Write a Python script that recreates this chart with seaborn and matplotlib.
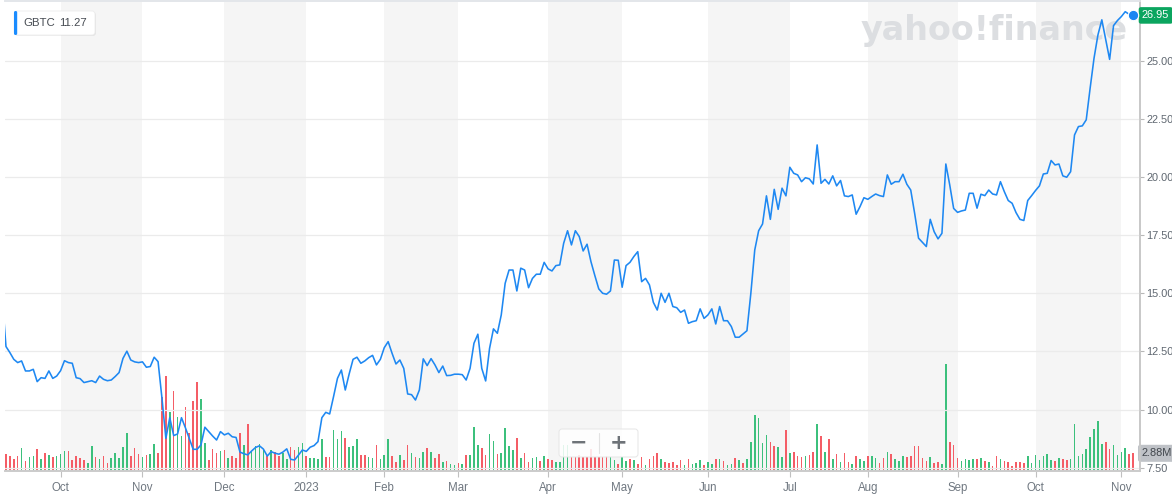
import numpy as np
import pandas as pd
import matplotlib
matplotlib.use("Agg")
import matplotlib.pyplot as plt
import matplotlib.transforms as mtransforms
from matplotlib.patches import FancyBboxPatch
import seaborn as sns

# ---------------- data ----------------
start_date = "2022-09-12"
end_date = "2023-11-06"
market_holidays = ["2022-11-24", "2022-12-26", "2023-01-02", "2023-01-16", "2023-02-20",
                   "2023-04-07", "2023-05-29", "2023-06-19", "2023-07-04", "2023-09-04"]

close_price = [
    14.9,
    12.71, 12.45, 12.16, 12.02, 12.09, 11.66, 11.66, 11.73, 11.20, 11.37,
    11.34, 11.66, 11.34, 11.44, 11.67, 12.10, 12.02, 11.99, 11.37, 11.33,
    11.16, 11.20, 11.24, 11.16, 11.44, 11.30, 11.24, 11.27, 11.42, 11.59,
    12.20, 12.51, 12.13, 12.05, 12.02, 12.05, 11.82, 11.85, 12.25, 12.06,
    10.48, 8.76, 9.65, 8.88, 8.95, 9.65, 9.22, 8.76, 8.29, 8.29,
    8.48, 9.24, 9.05, 8.86, 8.69, 9.05, 8.91, 8.98, 8.83, 8.80,
    8.17, 8.10, 8.05, 8.22, 8.37, 8.44, 8.30, 8.00, 8.19, 8.12,
    8.08, 8.17, 8.31, 7.86, 7.83, 8.04, 8.26, 8.20, 8.38, 8.45,
    8.62, 9.65, 9.88, 9.81, 10.56, 11.34, 11.70, 10.84, 11.53, 12.16,
    12.25, 11.99, 12.09, 12.23, 12.33, 11.92, 12.16, 12.66, 12.92, 12.42,
    11.96, 12.13, 11.77, 10.67, 10.64, 10.41, 10.84, 12.18, 11.89, 12.19,
    11.92, 11.59, 11.87, 11.46, 11.47, 11.52, 11.52, 11.50, 11.27, 11.77,
    12.85, 13.24, 11.77, 11.23, 12.63, 13.47, 13.28, 14.07, 15.43, 16.00,
    16.00, 15.10, 16.08, 16.00, 15.24, 15.64, 15.82, 15.82, 16.33, 16.05,
    15.96, 16.19, 16.22, 17.15, 17.69, 17.08, 17.69, 17.44, 16.82, 17.11,
    16.36, 15.76, 15.19, 15.00, 14.96, 15.10, 16.43, 16.42, 15.26, 16.19,
    16.33, 16.58, 16.79, 15.50, 15.64, 15.36, 14.61, 14.28, 15.00, 14.61,
    15.00, 14.43, 14.38, 14.18, 14.28, 13.71, 13.78, 13.82, 14.33, 13.92,
    14.07, 14.33, 13.68, 14.43, 13.82, 13.82, 13.57, 13.11, 13.11, 13.25,
    13.39, 15.00, 16.86, 17.69, 17.98, 19.19, 18.18, 19.47, 18.61, 19.52,
    19.19, 20.42, 20.16, 20.09, 19.80, 19.97, 19.92, 19.70, 21.38, 19.73,
    19.90, 19.70, 20.05, 19.62, 19.85, 19.19, 19.16, 19.23, 18.40, 18.73,
    19.11, 19.04, 19.16, 19.27, 19.20, 19.16, 20.09, 19.69, 19.80, 19.80,
    20.12, 19.69, 19.44, 18.44, 17.37, 17.19, 17.01, 18.18, 17.65, 17.34,
    17.58, 20.56, 19.66, 18.65, 18.48, 18.54, 18.58, 19.30, 19.30, 18.66,
    19.26, 19.20, 19.44, 19.27, 19.23, 19.80, 19.37, 18.99, 18.87, 18.47,
    18.18, 18.13, 18.99, 19.20, 19.42, 19.62, 20.13, 20.16, 20.71, 20.52,
    20.56, 20.05, 19.99, 20.23, 21.81, 22.17, 22.20, 22.46, 23.82, 25.11,
    26.11, 26.76, 25.90, 25.06, 26.51, 26.73, 26.90, 27.11, 27.00, 26.95,
]

volume_millions = [
    3.0,
    2.76, 2.48, 1.99, 2.48, 3.81, 1.60, 2.32, 2.48, 3.59, 1.93,
    2.92, 2.59, 2.32, 2.48, 2.76, 3.26, 3.26, 1.77, 2.48, 2.10,
    1.77, 1.27, 4.08, 2.26, 1.93, 2.43, 1.27, 2.10, 2.92, 2.10,
    3.92, 6.24, 2.43, 3.75, 2.76, 2.26, 2.65, 2.76, 4.42, 2.92,
    12.14, 15.67, 9.71, 13.19, 8.89, 5.74, 10.54, 6.24, 11.53, 14.68,
    11.87, 4.58, 1.77, 3.59, 2.92, 3.26, 3.42, 2.10, 2.43, 2.10,
    6.24, 4.25, 7.80, 3.30, 4.15, 4.40, 3.65, 2.50, 3.35, 3.10,
    2.40, 2.90, 1.90, 3.95, 3.42, 3.95, 4.60, 2.40, 2.04, 2.04,
    1.93, 5.24, 2.26, 2.26, 6.73, 5.30, 6.57, 5.46, 3.97, 4.14,
    5.24, 2.59, 2.59, 2.21, 2.04, 4.25, 1.93, 2.59, 5.24, 2.43,
    1.49, 2.59, 1.77, 4.25, 2.98, 2.21, 2.04, 3.15, 3.81, 3.09,
    2.04, 2.76, 1.49, 1.66, 1.10, 0.94, 1.32, 1.10, 2.59, 2.59,
    7.28, 4.25, 3.70, 2.59, 6.07, 4.91, 2.81, 2.92, 7.12, 4.08,
    3.42, 5.46, 2.10, 2.87, 1.43, 2.15, 2.32, 1.60, 2.43, 1.99,
    1.77, 1.38, 1.38, 4.30, 4.30, 2.30, 2.30, 2.60, 2.30, 2.30,
    3.60, 2.30, 2.30, 2.30, 2.40, 2.20, 1.77, 1.10, 2.21, 1.66,
    1.88, 1.77, 1.10, 2.21, 0.94, 1.88, 2.43, 2.87, 1.88, 1.49,
    1.32, 1.43, 0.99, 1.77, 0.99, 1.88, 1.10, 1.32, 1.77, 0.99,
    1.43, 1.10, 1.88, 1.88, 1.66, 0.99, 1.10, 2.10, 1.77, 1.21,
    1.88, 4.80, 9.22, 8.72, 4.53, 5.90, 4.75, 4.08, 3.97, 2.21,
    6.73, 2.98, 3.15, 2.43, 2.26, 2.43, 2.59, 3.15, 7.73, 5.74,
    3.15, 5.24, 1.93, 2.76, 1.43, 2.98, 1.43, 1.10, 2.43, 1.93,
    1.66, 2.43, 2.43, 2.10, 1.27, 2.10, 3.15, 2.81, 1.93, 1.60,
    2.43, 2.26, 2.43, 4.08, 4.08, 2.10, 1.60, 2.26, 1.27, 1.43,
    1.10, 17.67, 4.75, 4.25, 2.10, 1.60, 1.93, 1.77, 1.93, 1.93,
    2.10, 1.60, 1.43, 0.77, 2.43, 1.93, 1.60, 1.43, 0.77, 1.43,
    1.43, 1.27, 2.43, 1.27, 2.59, 1.77, 2.43, 2.76, 1.77, 1.60,
    2.10, 1.93, 1.77, 1.93, 7.73, 2.43, 2.76, 3.59, 5.57, 6.90,
    8.22, 4.42, 4.75, 3.59, 4.25, 2.59, 3.09, 3.75, 2.76, 2.88,
]

# g = up day (green volume bar), r = down day (red volume bar)
day_direction = "".join([
    "r",
    "rrrrgrggrg", "rgrgggrrrr", "rggrgrrggg", "ggrrrgrggr", "rrgrggrrrr",
    "ggrrrgrgrr", "rgrggggrgr", "rggrrggrgg", "ggrrgggrgg", "grrggrgggr",
    "rgrrgrggrg", "rrgrggrgrg", "ggrrggrggg", "grgrrggrgr", "rggggrrrrr",
    "rrrrrggrgg", "rgrrgrrrgr", "rrrrgrgggr", "ggrgrggrgr", "ggggggrrgg",
    "rgrrrgrrgr", "grgrgrrgrg", "grggrrgrgg", "grrrrrrgrr", "ggrrrggggr",
    "grgrrgrrrr", "rrgggggggr", "grrggggggg", "ggrrggggrr",
])

month_labels = ["Oct", "Nov", "Dec", "2023", "Feb", "Mar", "Apr", "May",
                "Jun", "Jul", "Aug", "Sep", "Oct", "Nov"]
price_ticks = [7.5, 10.0, 12.5, 15.0, 17.5, 20.0, 22.5, 25.0]
legend_symbol = "GBTC"
legend_value = "11.27"
last_price_text = "26.95"
last_volume_text = "2.88M"
watermark_text = "yahoo!finance"

# ---------------- frame ----------------
dates = pd.bdate_range(start_date, end_date)
dates = dates[~dates.isin(pd.to_datetime(market_holidays))]
df = pd.DataFrame({
    "date": dates,
    "idx": np.arange(len(dates)),
    "price": close_price,
    "vol": volume_millions,
    "dir": list(day_direction),
})
month_first = df.groupby(df["date"].dt.to_period("M"))["idx"].min().values[1:]
bar_palette = {"g": "#3cc07c", "r": "#f45d66"}

# ---------------- figure ----------------
W, H = 1172, 495
sns.set_theme(style="white")
plt.rcParams["font.family"] = ["Liberation Sans", "DejaVu Sans"]

fig = plt.figure(figsize=(W / 100, H / 100), dpi=100)
L, R, T, B = 4.5, 1139.5, 1.0, 470.7
ax_vol = fig.add_axes([L / W, 1 - B / H, (R - L) / W, (B - T) / H])
ax = ax_vol.twinx()

x_left, x_right = 0.62, df["idx"].iloc[-1] + 1.66

# month shading
ends = list(month_first[1:]) + [x_right + 5]
for i, (s, e) in enumerate(zip(month_first, ends)):
    if i % 2 == 0:
        ax_vol.axvspan(s, e, color="#f5f5f5", lw=0, zorder=0)

# watermark (behind line)
ax_vol.text(1128 / W, 1 - 40 / H, watermark_text, transform=fig.transFigure,
            ha="right", va="baseline", fontsize=24, fontweight="bold",
            family="DejaVu Sans", color="#dcdee1", zorder=0.5)

# volume bars
ax_vol.bar(df["idx"], df["vol"], width=0.4, color=df["dir"].map(bar_palette),
           linewidth=0, antialiased=False, zorder=2)
ax_vol.set_ylim(0, (B - T) / 6.04)
ax_vol.set_xlim(x_left, x_right)

# price grid + line
for v in price_ticks:
    ax.axhline(v, color="#ebebeb", lw=0.9, zorder=0)
sns.lineplot(data=df, x="idx", y="price", ax=ax, color="#1e88f2", lw=1.15)
last = df.iloc[-1]
ax.plot([last["idx"]], [last["price"]], "o", ms=7.5, color="#1a86f2",
        mec="white", mew=0.8, zorder=5, clip_on=False)
ax.set_ylim(7.37, 27.57)
ax.set_xlim(x_left, x_right)

# axes styling
for a in (ax, ax_vol):
    a.set_xlabel("")
    a.set_ylabel("")
    a.spines["left"].set_visible(False)
    a.spines["top"].set_color("#e3e6ea")
    a.spines["right"].set_color("#c9c9c9")
    a.spines["bottom"].set_color("#cccccc")
ax_vol.set_yticks([])
ax.set_yticks(price_ticks)
ax.set_yticklabels([f"{v:.2f}" for v in price_ticks])
ax.tick_params(axis="y", right=True, direction="out", length=3, width=0.8,
               color="#b8b8b8", labelcolor="#5f6770", labelsize=7.9, pad=2)
ax_vol.set_xticks(month_first)
ax_vol.set_xticklabels(month_labels)
ax_vol.tick_params(axis="x", bottom=True, direction="out", length=4, width=0.8,
                   color="#c0c0c0", labelcolor="#6f7780", labelsize=8.3, pad=4)

# price tag
ax.annotate(last_price_text, xy=(1, last["price"]), xycoords=("axes fraction", "data"),
            xytext=(2.5, 0), textcoords="offset pixels", ha="left", va="center",
            fontsize=7.9, color="white", annotation_clip=False,
            bbox=dict(boxstyle="round,pad=0.3,rounding_size=0.2", fc="#0ba55f", ec="none"))
# volume tag
ax_vol.annotate(last_volume_text, xy=(1, last["vol"]), xycoords=("axes fraction", "data"),
                xytext=(2, 0), textcoords="offset pixels", ha="left", va="center",
                fontsize=7.9, color="#41464c", annotation_clip=False, zorder=10,
                bbox=dict(boxstyle="round,pad=0.32,rounding_size=0.2", fc="#bfc2c7", ec="none"))

ident = mtransforms.IdentityTransform()

# legend box
fig.add_artist(FancyBboxPatch((15, H - 36), 81, 24, boxstyle="round,pad=0,rounding_size=3",
                              fc="#00000010", ec="none", transform=ident, zorder=20))
fig.add_artist(FancyBboxPatch((14, H - 35), 81, 24, boxstyle="round,pad=0,rounding_size=3",
                              fc="white", ec="#ececec", lw=0.6, transform=ident, zorder=21))
fig.add_artist(FancyBboxPatch((14, H - 35), 3.2, 24, boxstyle="round,pad=0,rounding_size=1.5",
                              fc="#1a8cff", ec="none", transform=ident, zorder=22))
fig.text(23 / W, 1 - 23.5 / H, legend_symbol, ha="left", va="center", fontsize=8.2,
         color="#464b52", zorder=23)
fig.text(59 / W, 1 - 23.5 / H, legend_value, ha="left", va="center", fontsize=8.2,
         color="#464b52", zorder=23)

# zoom buttons
fig.add_artist(FancyBboxPatch((559, H - 457), 79, 28, boxstyle="round,pad=0,rounding_size=3",
                              fc=(1, 1, 1, 0.85), ec="#e6e6e6", lw=0.7, transform=ident, zorder=20))
fig.add_artist(plt.Line2D([598.7, 598.7], [H - 453, H - 433], color="#e2e2e2", lw=0.8,
                          transform=ident, zorder=21))
fig.text(579 / W, 1 - 443 / H, "\u2212", ha="center", va="center", fontsize=15,
         fontweight="bold", family="DejaVu Sans", color="#6e7378", zorder=22)
fig.text(619 / W, 1 - 443 / H, "+", ha="center", va="center", fontsize=15,
         fontweight="bold", family="DejaVu Sans", color="#6e7378", zorder=22)

fig.savefig("out.png", dpi=100, facecolor="white")
